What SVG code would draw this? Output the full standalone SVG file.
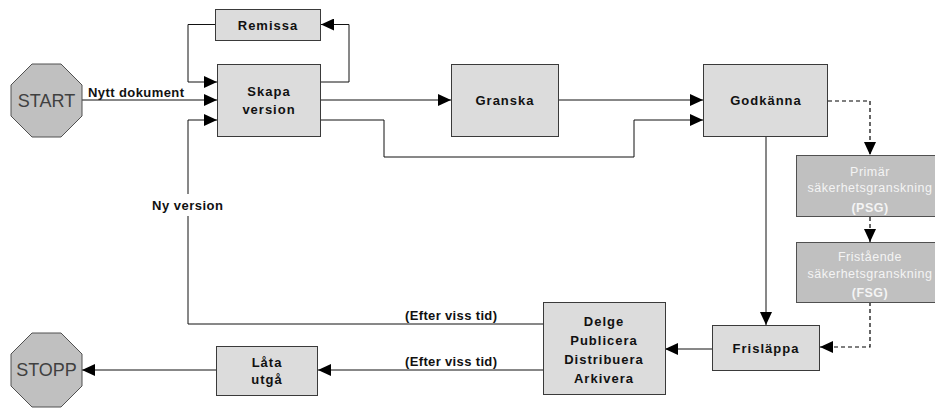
<svg xmlns="http://www.w3.org/2000/svg" width="935" height="408" viewBox="0 0 935 408">
<defs>
<marker id="ah" markerUnits="userSpaceOnUse" markerWidth="14" markerHeight="12" refX="13" refY="6" orient="auto">
<path d="M0,0 L13,6 L0,12 Z" fill="#000"/>
</marker>
<style>
.box{fill:#dcdcdc;stroke:#3a3a3a;stroke-width:1}
.dark{fill:#c0c0c0;stroke:#505050;stroke-width:1}
.oct{fill:#c0c0c0;stroke:#505050;stroke-width:1}
.t{font-family:"Liberation Sans",Arial,sans-serif;font-weight:bold;font-size:13px;fill:#111;text-anchor:middle;letter-spacing:1px}
.lt{font-family:"Liberation Sans",Arial,sans-serif;font-weight:bold;font-size:13px;fill:#111}
.ot{font-family:"Liberation Sans",Arial,sans-serif;font-size:18px;fill:#404040;text-anchor:middle}
.wt{font-family:"Liberation Sans",Arial,sans-serif;font-size:12.5px;fill:#f4f4f4;text-anchor:middle;letter-spacing:0.5px}
.wb{font-weight:bold}
.c{fill:none;stroke:#111;stroke-width:1;marker-end:url(#ah)}
.d{fill:none;stroke:#000;stroke-width:1.2;stroke-dasharray:4,3;marker-end:url(#ah)}
</style>
</defs>
<g id="connectors">
<path class="c" d="M82,100 H217"/>
<path class="c" d="M215,24.5 H188 V82 H217"/>
<path class="c" d="M321,82 H349 V24.5 H321"/>
<path class="c" d="M321,100 H451"/>
<path class="c" d="M559,100 H703"/>
<path class="c" d="M321,120 H384 V157 H634 V120 H703"/>
<path class="d" d="M828,101 H870 V155"/>
<path class="d" d="M870,217 V242"/>
<path class="d" d="M870,302 V347 H820"/>
<path class="c" d="M766,137 V325"/>
<path class="c" d="M712,349 H665"/>
<path class="c" d="M543,324 H188 V120 H217"/>
<path class="c" d="M543,370 H318"/>
<path class="c" d="M216,370 H82"/>
<rect x="150" y="194" width="76" height="22" fill="#fff"/>
<text class="lt" x="88" y="97" textLength="96">Nytt dokument</text>
<text class="lt" x="152" y="210" textLength="71">Ny version</text>
<text class="lt" x="405" y="320" textLength="92">(Efter viss tid)</text>
<text class="lt" x="405" y="366" textLength="92">(Efter viss tid)</text>
</g>
<g id="start">
<polygon class="oct" points="32,64 61,64 82,85 82,116 61,137 32,137 11,116 11,85"/>
<text class="ot" x="46.5" y="107">START</text>
</g>
<g id="stopp">
<polygon class="oct" points="32,333 61,333 82,354 82,386 61,407 32,407 11,386 11,354"/>
<text class="ot" x="46.5" y="376">STOPP</text>
</g>
<g id="remissa">
<rect class="box" x="215.5" y="9.5" width="105" height="31"/>
<text class="t" x="268" y="29.5">Remissa</text>
</g>
<g id="skapa">
<rect class="box" x="217.5" y="64.5" width="103" height="72"/>
<text class="t" x="269" y="96">Skapa</text>
<text class="t" x="269" y="114">version</text>
</g>
<g id="granska">
<rect class="box" x="451.5" y="64.5" width="107" height="72"/>
<text class="t" x="505" y="105">Granska</text>
</g>
<g id="godkanna">
<rect class="box" x="703.5" y="64.5" width="124" height="72"/>
<text class="t" x="766" y="105">Godkänna</text>
</g>
<g id="psg">
<rect class="dark" x="796.5" y="155.5" width="148" height="61"/>
<text class="wt" x="870" y="176">Primär</text>
<text class="wt" x="870" y="192">säkerhetsgranskning</text>
<text class="wt wb" x="870" y="212">(PSG)</text>
</g>
<g id="fsg">
<rect class="dark" x="796.5" y="242.5" width="148" height="60"/>
<text class="wt" x="870" y="261">Fristående</text>
<text class="wt" x="870" y="278">säkerhetsgranskning</text>
<text class="wt wb" x="870" y="297">(FSG)</text>
</g>
<g id="frislappa">
<rect class="box" x="712.5" y="325.5" width="107" height="45"/>
<text class="t" x="766" y="353">Frisläppa</text>
</g>
<g id="delge">
<rect class="box" x="543.5" y="302.5" width="122" height="92"/>
<text class="t" x="604" y="326">Delge</text>
<text class="t" x="604" y="345">Publicera</text>
<text class="t" x="604" y="364">Distribuera</text>
<text class="t" x="604" y="383">Arkivera</text>
</g>
<g id="lata">
<rect class="box" x="216.5" y="346.5" width="101" height="49"/>
<text class="t" x="267" y="367">Låta</text>
<text class="t" x="267" y="384">utgå</text>
</g>
</svg>
